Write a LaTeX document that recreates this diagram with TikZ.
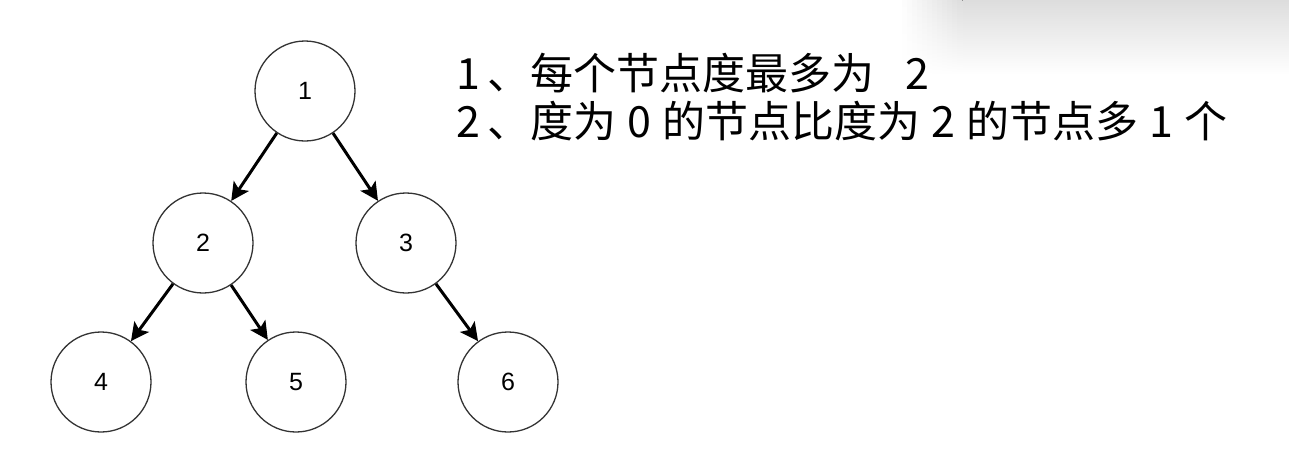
\documentclass[tikz,border=0pt]{standalone}
\usepackage{fontspec}
\setmainfont{Liberation Sans}
\newfontfamily\cjk{Noto Sans CJK SC}
\usetikzlibrary{arrows.meta}
\definecolor{color_borde}{RGB}{51,51,51}
\definecolor{color_sombra}{RGB}{221,221,221}
\newcommand{\cifra}[1]{\makebox[1.07em]{#1}}

\begin{document}
\begin{tikzpicture}[x=1pt, y=-1pt,
nodo/.style={circle, draw=color_borde, line width=1.3pt, minimum size=100pt, inner sep=0pt, font=\fontsize{25}{30}\selectfont},
flecha/.style={-{Stealth[length=18pt, width=18pt, inset=4pt]}, line width=3pt},
texto/.style={anchor=base west, inner sep=0pt, font=\cjk\fontsize{43}{48}\selectfont}]
\useasboundingbox (0,0) rectangle (1289,456);
% SOMBRA
\fill[top color=color_sombra, bottom color=white] (960,0) rectangle (1289,75);
\foreach \i [evaluate=\i as \p using \i*8] in {0,...,12}
  \fill[top color=color_sombra!\p!white, bottom color=white] ({897+\i*5},0) rectangle ({902.6+\i*5},75);
% ARBOL
\node[nodo] (n1) at (305,91) {1};
\node[nodo] (n2) at (203,243) {2};
\node[nodo] (n3) at (406,243) {3};
\node[nodo] (n4) at (101,382) {4};
\node[nodo] (n5) at (296,382) {5};
\node[nodo] (n6) at (508,382) {6};
% ARISTAS
\draw[flecha] (n1) -- (n2);
\draw[flecha] (n1) -- (n3);
\draw[flecha] (n2) -- (n4);
\draw[flecha] (n2) -- (n5);
\draw[flecha] (n3) -- (n6);
% TEXTO
\node[texto] (linea1) at (450,89) {\makebox[.87em]{1}、每个节点度最多为\hspace{.45em}\cifra{2}};
\node[texto] (linea2) at (450,137) {\makebox[.87em]{2}、度为\cifra{0}的节点比度为\cifra{2}的节点多\cifra{1}个};
\end{tikzpicture}
\end{document}
